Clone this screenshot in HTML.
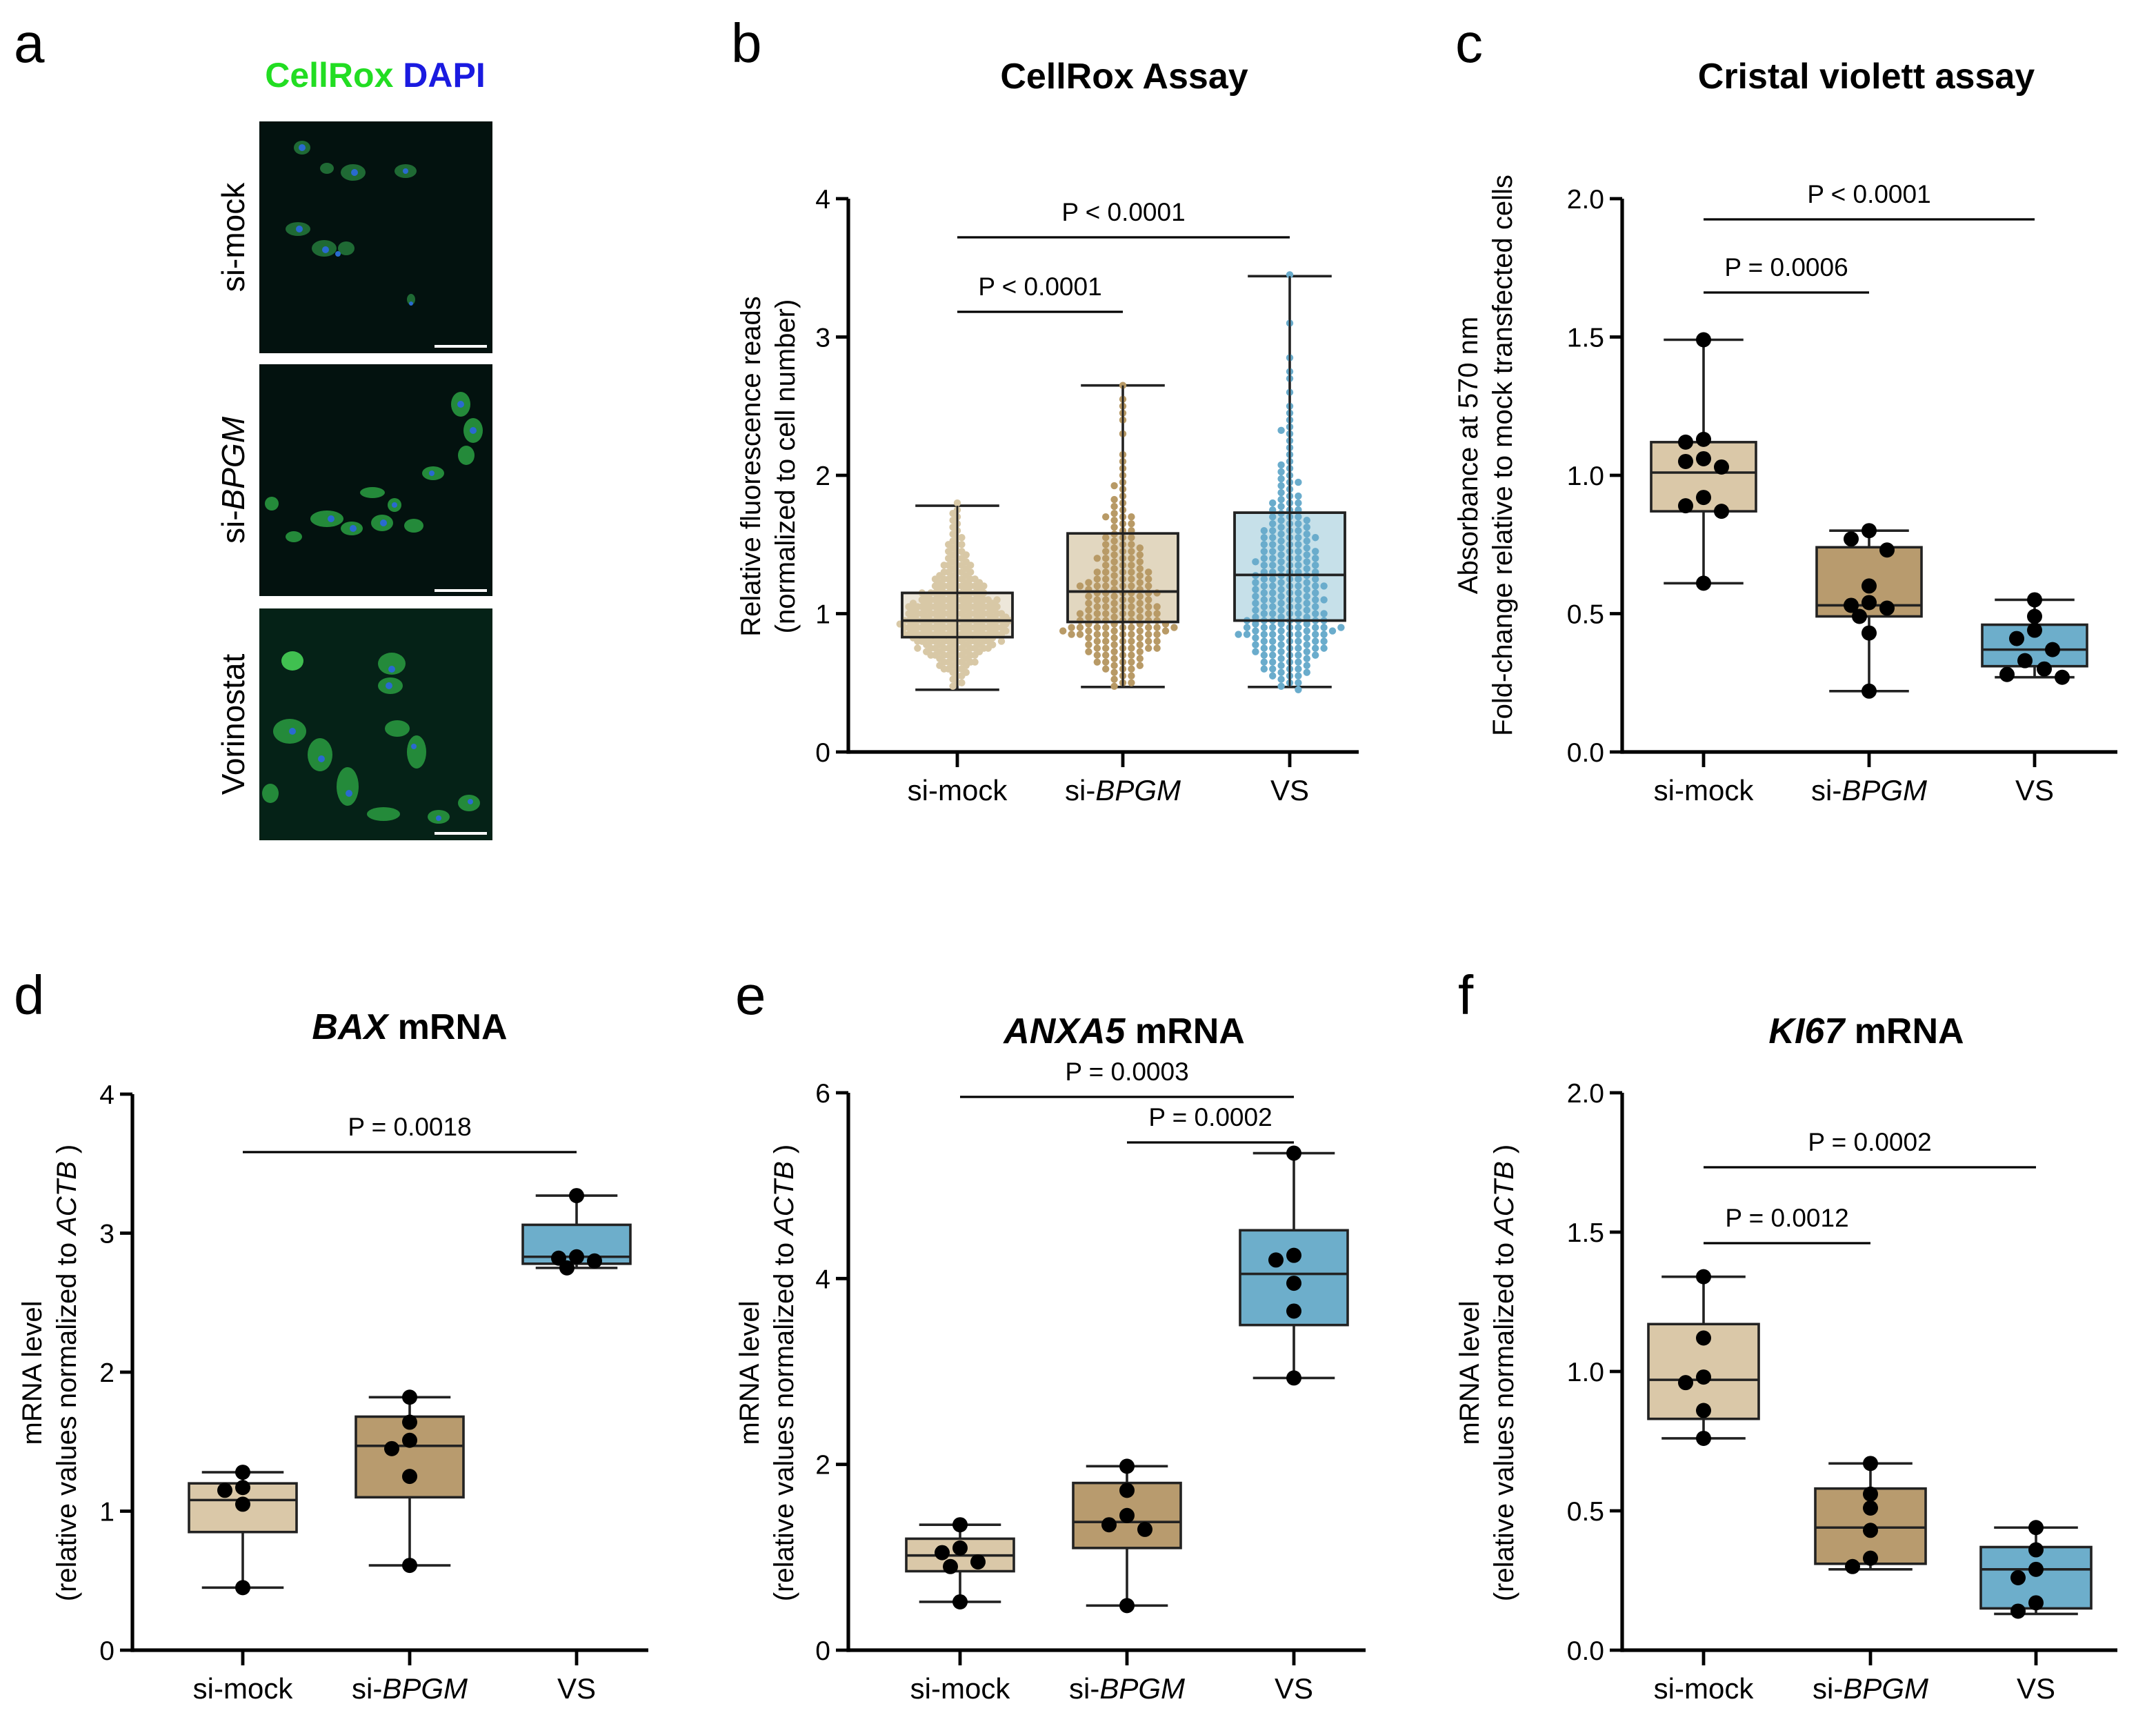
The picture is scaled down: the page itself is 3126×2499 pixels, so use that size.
<!DOCTYPE html>
<html><head><meta charset="utf-8"><style>
html,body{margin:0;padding:0;background:#fff;}
svg{display:block;font-family:"Liberation Sans",Arial,sans-serif;}
</style></head><body>
<svg id="fig" width="3126" height="2499" viewBox="0 0 1563 1249.5" xmlns="http://www.w3.org/2000/svg">
<rect width="1563" height="1250" fill="#fff"/>
<g>
<text x="10" y="45" font-size="40">a</text>
<text x="272" y="63" font-size="25" font-weight="bold" text-anchor="middle"><tspan fill="#22dd22">CellRox</tspan> <tspan fill="#1a1ae0">DAPI</tspan></text>
<g><rect x="188" y="88" width="169" height="168" fill="#03120f"/>
<g fill="#1f6a34"><ellipse cx="219" cy="107" rx="6" ry="5"/><ellipse cx="237" cy="122" rx="5" ry="4"/><ellipse cx="256" cy="125" rx="9" ry="6"/><ellipse cx="294" cy="124" rx="8" ry="5"/><ellipse cx="216" cy="166" rx="9" ry="5"/><ellipse cx="235" cy="180" rx="9" ry="6"/><ellipse cx="251" cy="180" rx="6" ry="5"/><ellipse cx="298" cy="217" rx="3" ry="4"/></g>
<g fill="#2a6ad0"><circle cx="219" cy="107" r="2.5"/><circle cx="257" cy="125" r="2.5"/><circle cx="294" cy="124" r="2"/><circle cx="217" cy="166" r="2.5"/><circle cx="236" cy="181" r="2.5"/><circle cx="245" cy="184" r="2"/><circle cx="298" cy="220" r="1.5"/></g>
<rect x="315" y="250" width="38" height="2" fill="#fff"/></g>
<g><rect x="188" y="264" width="169" height="168" fill="#03120f"/>
<g fill="#248a3a"><ellipse cx="334" cy="293" rx="7" ry="9"/><ellipse cx="343" cy="312" rx="7" ry="9"/><ellipse cx="338" cy="330" rx="6" ry="7"/><ellipse cx="197" cy="365" rx="5" ry="5"/><ellipse cx="237" cy="376" rx="12" ry="6"/><ellipse cx="255" cy="383" rx="8" ry="5"/><ellipse cx="277" cy="379" rx="8" ry="6"/><ellipse cx="300" cy="381" rx="7" ry="5"/><ellipse cx="314" cy="343" rx="8" ry="5"/><ellipse cx="270" cy="357" rx="9" ry="4"/><ellipse cx="213" cy="389" rx="6" ry="4"/><ellipse cx="286" cy="366" rx="5" ry="5"/></g>
<g fill="#2a6ad0"><circle cx="334" cy="293" r="2.5"/><circle cx="343" cy="312" r="2.5"/><circle cx="240" cy="376" r="2.5"/><circle cx="256" cy="383" r="2.5"/><circle cx="278" cy="379" r="2.5"/><circle cx="313" cy="343" r="2"/><circle cx="286" cy="366" r="2"/></g>
<rect x="315" y="427" width="38" height="2" fill="#fff"/></g>
<g><rect x="188" y="441" width="169" height="168" fill="#052217"/>
<g fill="#248a3a"><ellipse cx="212" cy="479" rx="8" ry="7" fill="#40c050"/><ellipse cx="284" cy="481" rx="10" ry="8"/><ellipse cx="283" cy="497" rx="9" ry="6"/><ellipse cx="210" cy="530" rx="12" ry="9"/><ellipse cx="232" cy="547" rx="9" ry="12"/><ellipse cx="252" cy="570" rx="8" ry="14"/><ellipse cx="288" cy="528" rx="9" ry="6"/><ellipse cx="302" cy="545" rx="7" ry="12"/><ellipse cx="196" cy="575" rx="6" ry="7"/><ellipse cx="318" cy="592" rx="8" ry="5"/><ellipse cx="340" cy="582" rx="8" ry="6"/><ellipse cx="278" cy="590" rx="12" ry="5"/></g>
<g fill="#2a6ad0"><circle cx="284" cy="485" r="2.5"/><circle cx="282" cy="497" r="2.5"/><circle cx="212" cy="530" r="2.5"/><circle cx="233" cy="550" r="2.5"/><circle cx="253" cy="575" r="2.5"/><circle cx="300" cy="541" r="2"/><circle cx="318" cy="593" r="2"/><circle cx="341" cy="581" r="2"/></g>
<rect x="315" y="603" width="38" height="2" fill="#fff"/></g>
<text transform="translate(177,172) rotate(-90)" font-size="23" text-anchor="middle">si-mock</text>
<text transform="translate(177,348) rotate(-90)" font-size="23" text-anchor="middle">si-<tspan font-style="italic">BPGM</tspan></text>
<text transform="translate(177,525) rotate(-90)" font-size="23" text-anchor="middle">Vorinostat</text>
</g>
</svg>
<script>
// ---- Panel b data (histogram counts of dots per 0.05 bin, starting at binStart) ----
const bBinStart = 0.45;
const bMockCounts = [2,3,5,8,10,14,18,22,24,26,24,22,20,16,13,11,9,7,6,5,4,3,3,2,2,2,1];
const bBpgmCounts = [2,3,4,5,6,8,9,10,14,12,10,9,9,8,10,8,7,6,5,6,5,4,3,3,4,3,2,2,1,2,1,1,1,1,0,0,1,0,1,1,1,1,0,1];
const bVsCounts = [3,4,5,6,7,8,9,10,13,10,9,9,8,9,8,9,8,7,8,7,6,7,6,6,5,4,4,3,3,2,3,2,2,1,1,1,1,2,1,1,1,0,1,0,1,1,0,1,0,0,0,0,1,0,0,0,0,0,0,1];
const bMockBox = [0.45,0.83,0.95,1.15,1.78];
const bBpgmBox = [0.47,0.94,1.16,1.58,2.65];
const bVsBox = [0.47,0.95,1.28,1.73,3.44];
// ---- Panel c ----
const cMockBox = [0.61,0.87,1.01,1.12,1.49];
const cBpgmBox = [0.22,0.49,0.53,0.74,0.80];
const cVsBox = [0.27,0.31,0.37,0.46,0.55];
const cMockPts = [1.49,1.13,1.12,1.06,1.05,1.03,0.92,0.89,0.87,0.61];
const cBpgmPts = [0.80,0.77,0.73,0.60,0.54,0.53,0.52,0.49,0.43,0.22];
const cVsPts = [0.55,0.49,0.44,0.41,0.37,0.33,0.30,0.28,0.27];
// ---- Panel d ----
const dMockBox = [0.45,0.85,1.08,1.20,1.28];
const dBpgmBox = [0.61,1.10,1.47,1.68,1.82];
const dVsBox = [2.75,2.78,2.83,3.06,3.27];
const dMockPts = [1.28,1.17,1.15,1.05,0.45];
const dBpgmPts = [1.82,1.64,1.51,1.45,1.25,0.61];
const dVsPts = [3.27,2.83,2.82,2.80,2.75];
// ---- Panel e ----
const eMockBox = [0.52,0.85,1.02,1.20,1.35];
const eBpgmBox = [0.48,1.10,1.38,1.80,1.98];
const eVsBox = [2.93,3.50,4.05,4.52,5.35];
const eMockPts = [1.35,1.10,1.05,0.95,0.90,0.52];
const eBpgmPts = [1.98,1.72,1.45,1.35,1.30,0.48];
const eVsPts = [5.35,4.25,4.20,3.95,3.65,2.93];
// ---- Panel f ----
const fMockBox = [0.76,0.83,0.97,1.17,1.34];
const fBpgmBox = [0.29,0.31,0.44,0.58,0.67];
const fVsBox = [0.13,0.15,0.29,0.37,0.44];
const fMockPts = [1.34,1.12,0.98,0.96,0.86,0.76];
const fBpgmPts = [0.67,0.56,0.51,0.43,0.33,0.30];
const fVsPts = [0.44,0.36,0.29,0.26,0.17,0.14];
// ---- ticks ----
const ticks04 = [0,1,2,3,4];
const ticks02 = ["0.0","0.5","1.0","1.5","2.0"];
const ticks06 = [0,2,4,6];

const NS = "http://www.w3.org/2000/svg";
const svg = document.getElementById('fig');
function mk(tag, attrs, parent){const e=document.createElementNS(NS,tag);for(const k in attrs)e.setAttribute(k,attrs[k]);(parent||svg).appendChild(e);return e;}

function panel(cfg){
  const g = mk('g',{});
  
  
  const y = v => cfg.y0 - (v - 0) / cfg.ymax * (cfg.y0 - cfg.ytop);
  const cx = i => cfg.cats[i];
  const L = mk('text',{x:cfg.letterX,y:cfg.letterY,'font-size':40},g); L.textContent=cfg.letter;
  
  
  const T = mk('text',{x:cfg.titleX,y:cfg.titleY,'font-size':26,'font-weight':'bold','text-anchor':'middle'},g);
  T.innerHTML = cfg.title;
  
  
  const A = mk('text',{transform:`translate(${cfg.atX},${cfg.atY}) rotate(-90)`,'font-size':20,'text-anchor':'middle'},g);
  A.innerHTML = cfg.atitle;
  
  
  const ya = mk('line',{x1:cfg.ax,y1:cfg.ytop,x2:cfg.ax,y2:cfg.y0+1.3,stroke:'#000','stroke-width':2.6},g);
  
  
  const xa = mk('line',{x1:cfg.ax-1.3,y1:cfg.y0,x2:cfg.xend,y2:cfg.y0,stroke:'#000','stroke-width':2.6},g);
  
  
  cfg.ticks.forEach(t=>{
    const v = parseFloat(t);
    const tl = mk('line',{x1:cfg.ax-9,y1:y(v),x2:cfg.ax,y2:y(v),stroke:'#000','stroke-width':2.4},g);
    
    
    const tt = mk('text',{x:cfg.ax-13,y:y(v)+7,'font-size':19.5,'text-anchor':'end'},g); tt.textContent=t;
    
    
  });
  const catLabels = ['si-mock','si-<tspan font-style="italic">BPGM</tspan>','VS'];
  cfg.cats.forEach((c,i)=>{
    const tl = mk('line',{x1:c,y1:cfg.y0,x2:c,y2:cfg.y0+11,stroke:'#000','stroke-width':2.4},g);
    
    
    const tt = mk('text',{x:c,y:cfg.y0+35,'font-size':21,'text-anchor':'middle'},g); tt.innerHTML=catLabels[i];
    
    
  });
  cfg.boxes.forEach((b,i)=>{
    const c = cx(i), w = cfg.bw;
    const bg = mk('g',{},g);
    
    
    mk('line',{x1:c,y1:y(b[0]),x2:c,y2:y(b[4]),stroke:'#222','stroke-width':1.8},bg);
    mk('line',{x1:c-w*0.38,y1:y(b[0]),x2:c+w*0.38,y2:y(b[0]),stroke:'#222','stroke-width':1.8},bg);
    mk('line',{x1:c-w*0.38,y1:y(b[4]),x2:c+w*0.38,y2:y(b[4]),stroke:'#222','stroke-width':1.8},bg);
    mk('rect',{x:c-w/2,y:y(b[3]),width:w,height:y(b[1])-y(b[3]),fill:cfg.fills[i],stroke:'#222','stroke-width':1.8},bg);
    mk('line',{x1:c-w/2,y1:y(b[2]),x2:c+w/2,y2:y(b[2]),stroke:'#222','stroke-width':1.8},bg);
  });
  const offs=[0,-13,13,-7,7,-20,20];
  if(cfg.pts){
    cfg.pts.forEach((arr,i)=>{
      let prev=null, k=0;
      arr.forEach(v=>{
        if(prev!==null && Math.abs(y(v)-y(prev))<10){k++;} else k=0;
        prev=v;
        const p = mk('circle',{cx:cx(i)+offs[k%offs.length],cy:y(v),r:5.5,fill:'#000'},g);
        
        
      });
    });
  }
  if(cfg.hist){
    cfg.hist.forEach((counts,i)=>{
      counts.forEach((n,j)=>{
        const v = bBinStart + j*0.05 + 0.025;
        for(let m=0;m<n;m++){
          const sgn = m%2===0?1:-1, step=Math.ceil(m/2);
          const dx = sgn*step*cfg.dotSp[i];
          const dy = ((m%3)-1)*2.5;
          const p = mk('circle',{cx:cx(i)+dx,cy:y(v)+dy,r:2.6,fill:cfg.dotCol[i]},g);
          
          
        }
      });
    });
    cfg.boxes.forEach((b,i)=>{
      const c=cx(i),w=cfg.bw;
      mk('rect',{x:c-w/2,y:y(b[3]),width:w,height:y(b[1])-y(b[3]),fill:'none',stroke:'#222','stroke-width':1.8},g);
      mk('line',{x1:c-w/2,y1:y(b[2]),x2:c+w/2,y2:y(b[2]),stroke:'#222','stroke-width':1.8},g);
      mk('line',{x1:c,y1:y(b[0]),x2:c,y2:y(b[4]),stroke:'#222','stroke-width':1.4},g);
    });
  }
  cfg.sig.forEach(s=>{
    const l = mk('line',{x1:cx(s.a),y1:s.y,x2:cx(s.b),y2:s.y,stroke:'#000','stroke-width':1.6},g);
    
    
    const t = mk('text',{x:(cx(s.a)+cx(s.b))/2,y:s.y-12,'font-size':18.5,'text-anchor':'middle'},g); t.textContent=s.t;
    
    
  });
}
const lightFills=['#ede7da','#e2d7c0','#c6e0e9'];
const darkFills=['#dac8a8','#b89b6e','#6daecb'];
panel({name:'panel-b-cellrox',letter:'b',letterX:530,letterY:45,title:'CellRox Assay',titleX:815,titleY:64,
  atitle:'<tspan x="0" dy="0">Relative fluorescence reads</tspan><tspan x="0" dy="25">(normalized to cell number)</tspan>',atX:551,atY:338,
  ax:615,y0:545,ytop:144,ymax:4,xend:985,cats:[694,814,935],bw:80,ticks:ticks04,
  boxes:[bMockBox,bBpgmBox,bVsBox],fills:lightFills,hist:[bMockCounts,bBpgmCounts,bVsCounts],
  dotSp:[3.2,6.2,6.2],dotCol:['#d8c8a6','#b89a66','#6aaccc'],
  sig:[{a:0,b:2,y:172,t:'P < 0.0001'},{a:0,b:1,y:226,t:'P < 0.0001'}]});
panel({name:'panel-c-crystal-violet',letter:'c',letterX:1055,letterY:45,title:'Cristal violett assay',titleX:1353,titleY:64,
  atitle:'<tspan x="0" dy="0">Absorbance at 570 nm</tspan><tspan x="0" dy="25">Fold-change relative to mock transfected cells</tspan>',atX:1071,atY:330,
  ax:1176,y0:545,ytop:144,ymax:2,xend:1535,cats:[1235,1355,1475],bw:76,ticks:ticks02,
  boxes:[cMockBox,cBpgmBox,cVsBox],fills:darkFills,pts:[cMockPts,cBpgmPts,cVsPts],
  sig:[{a:0,b:2,y:159,t:'P < 0.0001'},{a:0,b:1,y:212,t:'P = 0.0006'}]});
panel({name:'panel-d-bax',letter:'d',letterX:10,letterY:735,title:'<tspan font-style="italic">BAX</tspan> mRNA',titleX:297,titleY:753,
  atitle:'<tspan x="0" dy="0">mRNA level</tspan><tspan x="0" dy="25">(relative values normalized to <tspan font-style="italic">ACTB</tspan> )</tspan>',atX:30,atY:995,
  ax:96,y0:1196,ytop:793,ymax:4,xend:470,cats:[176,297,418],bw:78,ticks:ticks04,
  boxes:[dMockBox,dBpgmBox,dVsBox],fills:darkFills,pts:[dMockPts,dBpgmPts,dVsPts],
  sig:[{a:0,b:2,y:835,t:'P = 0.0018'}]});
panel({name:'panel-e-anxa5',letter:'e',letterX:533,letterY:735,title:'<tspan font-style="italic">ANXA5</tspan> mRNA',titleX:815,titleY:756,
  atitle:'<tspan x="0" dy="0">mRNA level</tspan><tspan x="0" dy="25">(relative values normalized to <tspan font-style="italic">ACTB</tspan> )</tspan>',atX:550,atY:995,
  ax:615,y0:1196,ytop:792,ymax:6,xend:990,cats:[696,817,938],bw:78,ticks:ticks06,
  boxes:[eMockBox,eBpgmBox,eVsBox],fills:darkFills,pts:[eMockPts,eBpgmPts,eVsPts],
  sig:[{a:0,b:2,y:795,t:'P = 0.0003'},{a:1,b:2,y:828,t:'P = 0.0002'}]});
panel({name:'panel-f-ki67',letter:'f',letterX:1057,letterY:735,title:'<tspan font-style="italic">KI67</tspan> mRNA',titleX:1353,titleY:756,
  atitle:'<tspan x="0" dy="0">mRNA level</tspan><tspan x="0" dy="25">(relative values normalized to <tspan font-style="italic">ACTB</tspan> )</tspan>',atX:1072,atY:995,
  ax:1176,y0:1196,ytop:792,ymax:2,xend:1535,cats:[1235,1356,1476],bw:80,ticks:ticks02,
  boxes:[fMockBox,fBpgmBox,fVsBox],fills:darkFills,pts:[fMockPts,fBpgmPts,fVsPts],
  sig:[{a:0,b:2,y:846,t:'P = 0.0002'},{a:0,b:1,y:901,t:'P = 0.0012'}]});
</script>
</body></html>
